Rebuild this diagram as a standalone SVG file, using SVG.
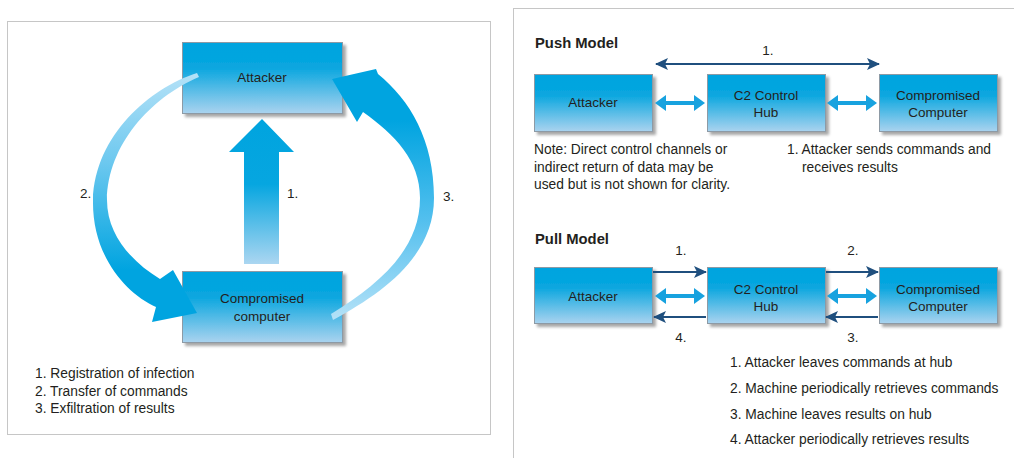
<svg xmlns="http://www.w3.org/2000/svg" width="1014" height="458" viewBox="0 0 1014 458">
<style>
text{font-family:"Liberation Sans",Arial,sans-serif;fill:#231f20}
.t{font-size:13.5px}
.b{font-size:14.8px;font-weight:bold}
.l{font-size:13.8px}
.c{text-anchor:middle}
.box{fill:url(#boxg);stroke:#8d9aa5;stroke-width:1}
.frame{fill:#fff;stroke:#c6c6c6;stroke-width:1}
.dk{stroke:#1f4f7e;stroke-width:2;fill:none}
.lb{fill:#17a2df}
</style>
<defs>
<linearGradient id="boxg" x1="0" y1="0" x2="0" y2="1">
<stop offset="0" stop-color="#00a4df"/>
<stop offset="0.35" stop-color="#08a6df"/>
<stop offset="1" stop-color="#aad3ef"/>
</linearGradient>
<linearGradient id="upg" gradientUnits="userSpaceOnUse" x1="0" y1="119" x2="0" y2="264">
<stop offset="0" stop-color="#00a4df"/>
<stop offset="0.45" stop-color="#06a6e0"/>
<stop offset="1" stop-color="#abd6f1"/>
</linearGradient>
<linearGradient id="lg2" gradientUnits="userSpaceOnUse" x1="0" y1="75" x2="0" y2="270">
<stop offset="0" stop-color="#b3e1f7"/>
<stop offset="0.45" stop-color="#6cc8ef"/>
<stop offset="1" stop-color="#00a4e0"/>
</linearGradient>
<linearGradient id="lg3" gradientUnits="userSpaceOnUse" x1="0" y1="120" x2="0" y2="318">
<stop offset="0" stop-color="#00a4e0"/>
<stop offset="0.5" stop-color="#52bfee"/>
<stop offset="1" stop-color="#b3e1f7"/>
</linearGradient>
<filter id="sh" x="-10%" y="-10%" width="130%" height="140%">
<feGaussianBlur in="SourceAlpha" stdDeviation="1.6"/>
<feOffset dx="2.5" dy="2.5" result="o"/>
<feComponentTransfer><feFuncA type="linear" slope="0.35"/></feComponentTransfer>
<feMerge><feMergeNode/><feMergeNode in="SourceGraphic"/></feMerge>
</filter>
<marker id="ah" markerUnits="userSpaceOnUse" markerWidth="14" markerHeight="12" refX="12" refY="6" orient="auto-start-reverse">
<path d="M0,0 L13,6 L0,12 L3,6 Z" fill="#1f4f7e"/>
</marker>
</defs>
<rect width="1014" height="458" fill="#fff"/>
<rect class="frame" x="7.5" y="21.5" width="483" height="413"/>
<rect class="frame" x="513.5" y="8.5" width="520" height="470"/>

<!-- Left panel -->
<g id="attacker-left"><rect class="box" x="182.5" y="42.5" width="160" height="71" filter="url(#sh)"/><text class="t c" x="262" y="82">Attacker</text></g>
<g id="compromised-left"><rect class="box" x="182.5" y="271.5" width="160" height="71" filter="url(#sh)"/><text class="t c" x="262" y="303">Compromised</text><text class="t c" x="262" y="321">computer</text></g>
<g id="connectors-left">
<path d="M197,73 C150,88 95,135 93,200 C92,255 125,293 156,307 L152,322 L197,313 L173,270 L160,279 C132,262 107,235 107,200 C108,145 150,98 199,77 Z" fill="url(#lg2)"/>
<path d="M333,320 C385,292 434,255 434,198 C434,140 410,100 378,74 L376,69 L332,79 L357,122 L363,112 C395,135 420,160 420,198 C420,250 378,285 331,314 Z" fill="url(#lg3)"/>
<polygon points="244,264 244,152 229,152 262,119 294,152 279,152 279,264" fill="url(#upg)"/>
</g>
<text class="t" x="287" y="198">1.</text>
<text class="t" x="80" y="198">2.</text>
<text class="t" x="443" y="201">3.</text>
<text class="l" x="35" y="378">1. Registration of infection</text>
<text class="l" x="35" y="396">2. Transfer of commands</text>
<text class="l" x="35" y="413">3. Exfiltration of results</text>

<!-- Push model -->
<text class="b" x="535" y="48">Push Model</text>
<g id="push-attacker"><rect class="box" x="534.5" y="74.5" width="118" height="57" filter="url(#sh)"/><text class="t c" x="593" y="107">Attacker</text></g>
<g id="push-hub"><rect class="box" x="707.5" y="74.5" width="118" height="57" filter="url(#sh)"/><text class="t c" x="766" y="100">C2 Control</text><text class="t c" x="766" y="117">Hub</text></g>
<g id="push-computer"><rect class="box" x="879.5" y="74.5" width="118" height="57" filter="url(#sh)"/><text class="t c" x="938" y="100">Compromised</text><text class="t c" x="938" y="117">Computer</text></g>
<g id="push-connectors">
<line class="dk" x1="656" y1="64" x2="879" y2="64" marker-start="url(#ah)" marker-end="url(#ah)"/>
<polygon class="lb" points="655,103 666,95 666,101 694,101 694,95 705,103 694,111 694,105 666,105 666,111"/>
<polygon class="lb" points="827,103 838,95 838,101 866,101 866,95 877,103 866,111 866,105 838,105 838,111"/>
</g>
<text class="t c" x="768" y="55">1.</text>
<text class="l" x="534" y="154">Note: Direct control channels or</text>
<text class="l" x="534" y="172">indirect return of data may be</text>
<text class="l" x="534" y="189">used but is not shown for clarity.</text>
<text class="l" x="787" y="154">1. Attacker sends commands and</text>
<text class="l" x="802" y="172">receives results</text>

<!-- Pull model -->
<text class="b" x="535" y="244">Pull Model</text>
<g id="pull-attacker"><rect class="box" x="534.5" y="267.5" width="118" height="56" filter="url(#sh)"/><text class="t c" x="593" y="301">Attacker</text></g>
<g id="pull-hub"><rect class="box" x="707.5" y="267.5" width="118" height="56" filter="url(#sh)"/><text class="t c" x="766" y="294">C2 Control</text><text class="t c" x="766" y="311">Hub</text></g>
<g id="pull-computer"><rect class="box" x="879.5" y="267.5" width="118" height="56" filter="url(#sh)"/><text class="t c" x="938" y="294">Compromised</text><text class="t c" x="938" y="311">Computer</text></g>
<g id="pull-connectors">
<line class="dk" x1="653" y1="272" x2="706" y2="272" marker-end="url(#ah)"/>
<line class="dk" x1="826" y1="272" x2="878" y2="272" marker-end="url(#ah)"/>
<line class="dk" x1="706" y1="317" x2="654" y2="317" marker-end="url(#ah)"/>
<line class="dk" x1="878" y1="317" x2="826" y2="317" marker-end="url(#ah)"/>
<polygon class="lb" points="655,296 666,288 666,294 694,294 694,288 705,296 694,304 694,298 666,298 666,304"/>
<polygon class="lb" points="827,296 838,288 838,294 866,294 866,288 877,296 866,304 866,298 838,298 838,304"/>
</g>
<text class="t c" x="681" y="255">1.</text>
<text class="t c" x="853" y="255">2.</text>
<text class="t c" x="681" y="342">4.</text>
<text class="t c" x="853" y="342">3.</text>
<text class="l" x="730" y="367">1. Attacker leaves commands at hub</text>
<text class="l" x="730" y="393">2. Machine periodically retrieves commands</text>
<text class="l" x="730" y="419">3. Machine leaves results on hub</text>
<text class="l" x="730" y="444">4. Attacker periodically retrieves results</text>
</svg>
